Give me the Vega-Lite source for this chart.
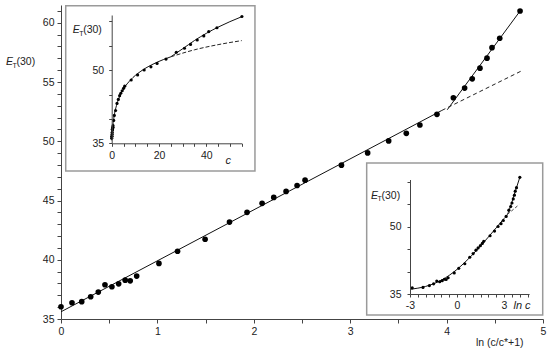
{
  "$schema": "https://vega.github.io/schema/vega-lite/v6.json",
  "width": 482,
  "height": 314,
  "autosize": {"type": "none"},
  "padding": {"left": 61, "top": 5, "right": 7, "bottom": 37},
  "background": "white",
  "config": {
    "view": {"stroke": null},
    "axis": {"grid": false, "domainColor": "#444", "tickColor": "#444", "labelColor": "#222", "labelFont": "Liberation Sans", "labelFontSize": 10.5, "titleFont": "Liberation Sans", "titleFontWeight": "normal", "titleColor": "#222", "titleFontSize": 10.5, "domainWidth": 1, "tickWidth": 1, "labelOverlap": false, "labelFlush": false},
    "text": {"font": "Liberation Sans"}
  },
  "datasets": {
    "main": [
      {"x": 0.000, "y": 36.03}, {"x": 0.114, "y": 36.37}, {"x": 0.215, "y": 36.46}, {"x": 0.308, "y": 36.88},
      {"x": 0.387, "y": 37.27}, {"x": 0.456, "y": 37.89}, {"x": 0.528, "y": 37.72}, {"x": 0.598, "y": 37.97},
      {"x": 0.666, "y": 38.28}, {"x": 0.718, "y": 38.22}, {"x": 0.785, "y": 38.62}, {"x": 1.016, "y": 39.69},
      {"x": 1.209, "y": 40.72}, {"x": 1.495, "y": 41.73}, {"x": 1.748, "y": 43.18}, {"x": 1.930, "y": 44.00},
      {"x": 2.086, "y": 44.76}, {"x": 2.207, "y": 45.26}, {"x": 2.335, "y": 45.77}, {"x": 2.449, "y": 46.27},
      {"x": 2.532, "y": 46.72}, {"x": 2.909, "y": 47.98}, {"x": 3.181, "y": 49.02}, {"x": 3.399, "y": 50.03},
      {"x": 3.582, "y": 50.67}, {"x": 3.723, "y": 51.37}, {"x": 3.900, "y": 52.27}, {"x": 4.070, "y": 53.67},
      {"x": 4.187, "y": 54.49}, {"x": 4.266, "y": 55.27}, {"x": 4.346, "y": 56.17}, {"x": 4.419, "y": 57.01},
      {"x": 4.471, "y": 57.90}, {"x": 4.551, "y": 58.69}, {"x": 4.762, "y": 60.99}
    ],
    "boxes": [
      {"x": 0.049, "x2": 2.012, "y": 47.49, "y2": 61.44},
      {"x": 3.171, "x2": 4.997, "y": 35.34, "y2": 48.16}
    ],
    "titles": [
      {"x": -0.5705, "y": 56.43},
      {"x": 0.121, "y": 59.11},
      {"x": 3.216, "y": 45.13}
    ],
    "inset1pts": [
      {"c": 0, "E": 36.03}, {"c": 0.057, "E": 36.37}, {"c": 0.114, "E": 36.46}, {"c": 0.171, "E": 36.88},
      {"c": 0.225, "E": 37.27}, {"c": 0.275, "E": 37.89}, {"c": 0.330, "E": 37.72}, {"c": 0.389, "E": 37.97},
      {"c": 0.450, "E": 38.28}, {"c": 0.499, "E": 38.22}, {"c": 0.566, "E": 38.62}, {"c": 0.837, "E": 39.69},
      {"c": 1.116, "E": 40.72}, {"c": 1.643, "E": 41.73}, {"c": 2.253, "E": 43.18}, {"c": 2.798, "E": 44.00},
      {"c": 3.350, "E": 44.76}, {"c": 3.842, "E": 45.26}, {"c": 4.431, "E": 45.77}, {"c": 5.024, "E": 46.27},
      {"c": 5.500, "E": 46.72}, {"c": 8.236, "E": 47.98}, {"c": 10.96, "E": 49.02}, {"c": 13.74, "E": 50.03},
      {"c": 16.60, "E": 50.67}, {"c": 19.19, "E": 51.37}, {"c": 22.99, "E": 52.27}, {"c": 27.34, "E": 53.67},
      {"c": 30.79, "E": 54.49}, {"c": 33.36, "E": 55.27}, {"c": 36.18, "E": 56.17}, {"c": 38.96, "E": 57.01},
      {"c": 41.06, "E": 57.90}, {"c": 44.52, "E": 58.69}, {"c": 55.09, "E": 60.99}
    ],
    "inset1curve": [
      {"c": 0, "E": 35.61}, {"c": 0.25, "E": 37.43}, {"c": 0.5, "E": 38.70}, {"c": 1, "E": 40.48},
      {"c": 2, "E": 42.71}, {"c": 3, "E": 44.17}, {"c": 5, "E": 46.12}, {"c": 8, "E": 48.00},
      {"c": 12, "E": 49.66}, {"c": 17, "E": 51.11}, {"c": 22, "E": 52.19}, {"c": 25, "E": 52.73}
    ],
    "inset1steep": [
      {"c": 25, "E": 52.73}, {"c": 30, "E": 54.37}, {"c": 35, "E": 56.06}, {"c": 40, "E": 57.53},
      {"c": 45, "E": 58.81}, {"c": 55, "E": 60.95}
    ],
    "inset1dash": [
      {"c": 25, "E": 52.73}, {"c": 35, "E": 54.16}, {"c": 45, "E": 55.22}, {"c": 55, "E": 56.05}
    ],
    "inset3pts": [
      {"L": -2.858, "E": 36.37}, {"L": -2.172, "E": 36.46}, {"L": -1.764, "E": 36.88}, {"L": -1.494, "E": 37.27},
      {"L": -1.293, "E": 37.89}, {"L": -1.107, "E": 37.72}, {"L": -0.945, "E": 37.97}, {"L": -0.799, "E": 38.28},
      {"L": -0.695, "E": 38.22}, {"L": -0.568, "E": 38.62}, {"L": -0.178, "E": 39.69}, {"L": 0.110, "E": 40.72},
      {"L": 0.497, "E": 41.73}, {"L": 0.812, "E": 43.18}, {"L": 1.029, "E": 44.00}, {"L": 1.209, "E": 44.76},
      {"L": 1.346, "E": 45.26}, {"L": 1.489, "E": 45.77}, {"L": 1.614, "E": 46.27}, {"L": 1.705, "E": 46.72},
      {"L": 2.108, "E": 47.98}, {"L": 2.394, "E": 49.02}, {"L": 2.620, "E": 50.03}, {"L": 2.809, "E": 50.67},
      {"L": 2.954, "E": 51.37}, {"L": 3.135, "E": 52.27}, {"L": 3.308, "E": 53.67}, {"L": 3.427, "E": 54.49},
      {"L": 3.507, "E": 55.27}, {"L": 3.589, "E": 56.17}, {"L": 3.663, "E": 57.01}, {"L": 3.715, "E": 57.90},
      {"L": 3.796, "E": 58.69}, {"L": 4.009, "E": 60.99}
    ],
    "inset3curve": [
      {"L": -3, "E": 36.04}, {"L": -2.5, "E": 36.30}, {"L": -2, "E": 36.69}, {"L": -1.5, "E": 37.27},
      {"L": -1, "E": 38.08}, {"L": -0.5, "E": 39.15}, {"L": 0, "E": 40.48}, {"L": 0.5, "E": 42.05},
      {"L": 1, "E": 43.80}, {"L": 1.5, "E": 45.69}, {"L": 2, "E": 47.68}, {"L": 2.5, "E": 49.73},
      {"L": 3, "E": 51.81}, {"L": 3.22, "E": 52.74}, {"L": 3.4, "E": 54.36}, {"L": 3.6, "E": 56.55},
      {"L": 3.8, "E": 58.74}, {"L": 4.01, "E": 61.0}
    ],
    "inset3dash": [
      {"L": 3.22, "E": 52.74}, {"L": 3.96, "E": 54.9}
    ]
  },
  "layer": [
    {
      "encoding": {
        "x": {"field": "x", "type": "quantitative", "scale": {"domain": [0, 5], "nice": false, "zero": false},
          "axis": {"values": [0, 0.5, 1, 1.5, 2, 2.5, 3, 3.5, 4, 4.5, 5], "labelExpr": "datum.value % 1 === 0 ? format(datum.value, 'd') : ''", "tickSize": 4, "labelPadding": 3, "title": "ln (c/c*+1)", "titleAnchor": "end", "titleAlign": "right", "titleX": 462, "titleY": 26, "titleBaseline": "alphabetic"}},
        "y": {"field": "y", "type": "quantitative", "scale": {"domain": [35, 61.5], "nice": false, "zero": false},
          "axis": {"values": [35, 36, 37, 38, 39, 40, 41, 42, 43, 44, 45, 46, 47, 48, 49, 50, 51, 52, 53, 54, 55, 56, 57, 58, 59, 60, 61], "labelExpr": "datum.value % 5 === 0 ? format(datum.value, 'd') : ''", "tickSize": 4, "labelPadding": 3, "title": null}}
      },
      "layer": [
        {"data": {"values": [{"x": 0, "y": 35.61}, {"x": 3.95, "y": 52.6}]}, "mark": {"type": "line", "color": "#111", "strokeWidth": 1}},
        {"data": {"values": [{"x": 4.007, "y": 52.66}, {"x": 4.762, "y": 60.99}]}, "mark": {"type": "line", "color": "#111", "strokeWidth": 1}},
        {"data": {"values": [{"x": 3.95, "y": 52.6}, {"x": 4.78, "y": 55.95}]}, "mark": {"type": "line", "color": "#222", "strokeWidth": 1, "strokeDash": [4, 3]}},
        {"data": {"name": "main"}, "mark": {"type": "circle", "size": 32, "color": "#000", "opacity": 1}},
        {"data": {"name": "boxes"}, "mark": {"type": "rect", "fill": "white", "stroke": "#9a9a9a", "strokeWidth": 1.5}, "encoding": {"x2": {"field": "x2"}, "y2": {"field": "y2"}}},
        {"data": {"name": "titles"}, "mark": {"type": "text", "text": "E", "fontStyle": "italic", "fontSize": 10.5, "align": "left", "baseline": "alphabetic", "color": "#222"}},
        {"data": {"name": "titles"}, "mark": {"type": "text", "text": "T", "fontSize": 7, "align": "left", "baseline": "alphabetic", "dx": 6.5, "dy": 2.5, "color": "#222"}},
        {"data": {"name": "titles"}, "mark": {"type": "text", "text": "(30)", "fontSize": 10.5, "align": "left", "baseline": "alphabetic", "dx": 10.5, "color": "#222"}}
      ]
    },
    {
      "encoding": {
        "x": {"field": "c", "type": "quantitative", "scale": {"domain": [0, 55], "range": [50.7, 180.7], "nice": false, "zero": false},
          "axis": {"orient": "bottom", "offset": -175.7, "zindex": 2, "values": [0, 5, 10, 15, 20, 25, 30, 35, 40, 45, 50, 55], "labelExpr": "datum.value % 20 === 0 ? format(datum.value, 'd') : ''", "tickSize": 3, "labelPadding": 4, "title": null}},
        "y": {"field": "E", "type": "quantitative", "scale": {"domain": [35, 61.3], "range": [138.3, 10], "nice": false, "zero": false},
          "axis": {"orient": "left", "offset": -50.7, "zindex": 2, "values": [35, 40, 45, 50, 55, 60], "labelExpr": "(datum.value == 35 || datum.value == 50) ? format(datum.value, 'd') : ''", "tickSize": 3, "labelPadding": 5, "title": null}}
      },
      "layer": [
        {"data": {"name": "inset1curve"}, "mark": {"type": "line", "color": "#111", "strokeWidth": 1, "interpolate": "monotone"}},
        {"data": {"name": "inset1steep"}, "mark": {"type": "line", "color": "#111", "strokeWidth": 1, "interpolate": "monotone"}},
        {"data": {"name": "inset1dash"}, "mark": {"type": "line", "color": "#222", "strokeWidth": 1, "strokeDash": [4, 2], "interpolate": "monotone"}},
        {"data": {"name": "inset1pts"}, "mark": {"type": "circle", "size": 10, "color": "#000", "opacity": 1}},
        {"data": {"values": [{"c": 49.3, "E": 31.4}]}, "mark": {"type": "text", "text": "c", "fontStyle": "italic", "fontSize": 11, "align": "center", "baseline": "middle", "color": "#222"}}
      ]
    },
    {
      "encoding": {
        "x": {"field": "L", "type": "quantitative", "scale": {"domain": [-3, 4.6], "range": [349, 468.1], "nice": false, "zero": false},
          "axis": {"orient": "bottom", "offset": -25, "zindex": 2, "values": [-3, -2.5, -2, -1.5, -1, -0.5, 0, 0.5, 1, 1.5, 2, 2.5, 3, 3.5, 4, 4.5], "labelExpr": "datum.value == -3 ? '-3' : (datum.value == 0 ? '0' : (datum.value == 3 ? '3' : ''))", "tickSize": 3, "labelPadding": 3, "title": null}},
        "y": {"field": "E", "type": "quantitative", "scale": {"domain": [35, 60.5], "range": [289, 174.5], "nice": false, "zero": false},
          "axis": {"orient": "left", "offset": -349, "zindex": 2, "values": [35, 40, 45, 50, 55, 60], "labelExpr": "(datum.value == 35 || datum.value == 50) ? format(datum.value, 'd') : ''", "tickSize": 3, "labelPadding": 6, "title": null}}
      },
      "layer": [
        {"data": {"name": "inset3curve"}, "mark": {"type": "line", "color": "#111", "strokeWidth": 1, "interpolate": "monotone"}},
        {"data": {"name": "inset3dash"}, "mark": {"type": "line", "color": "#444", "strokeWidth": 1, "strokeDash": [3, 2]}},
        {"data": {"name": "inset3pts"}, "mark": {"type": "circle", "size": 10, "color": "#000", "opacity": 1}},
        {"data": {"values": [{"L": 4.15, "E": 32.4}]}, "mark": {"type": "text", "text": "ln c", "fontStyle": "italic", "fontSize": 11, "align": "center", "baseline": "middle", "color": "#222"}}
      ]
    }
  ],
  "resolve": {"scale": {"x": "independent", "y": "independent"}}
}
